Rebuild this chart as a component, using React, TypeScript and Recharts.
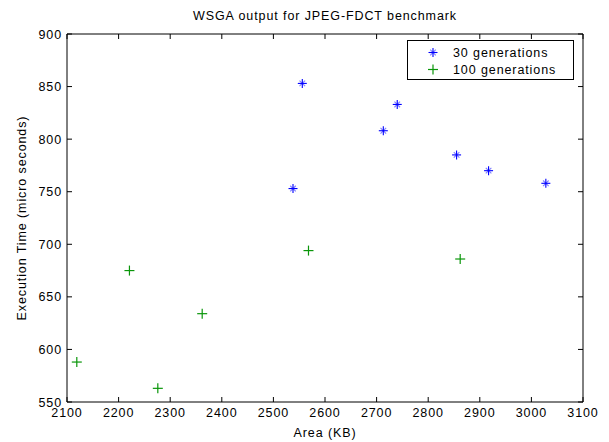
import React from "react";
import { ScatterChart, Scatter, XAxis, YAxis, Legend, Label } from "recharts";

const gen30Area = [2538, 2556, 2713, 2740, 2855, 2917, 3028];
const gen30Time = [753, 853, 808, 833, 785, 770, 758];
const gen100Area = [2119, 2221, 2276, 2362, 2568, 2862];
const gen100Time = [588, 675, 563, 634, 694, 686];
const xTicks = [2100, 2200, 2300, 2400, 2500, 2600, 2700, 2800, 2900, 3000, 3100];
const yTicks = [550, 600, 650, 700, 750, 800, 850, 900];
const seriesNames = ["30 generations", "100 generations"];
const titleText = "WSGA output for JPEG-FDCT benchmark";
const xLabel = "Area (KB)";
const yLabel = "Execution Time (micro seconds)";

const gen30 = gen30Area.map((a, i) => ({ x: a, y: gen30Time[i] }));
const gen100 = gen100Area.map((a, i) => ({ x: a, y: gen100Time[i] }));

const FONT = "'Liberation Sans', Arial, Helvetica, sans-serif";
const BLUE = "#0000ff";
const GREEN = "#0a960a";
const TL = 5;

const StarMark = ({ cx, cy, color = BLUE }: any) => (
  <g stroke={color} strokeWidth={1.1}>
    <line x1={cx - 4.5} y1={cy} x2={cx + 4.5} y2={cy} />
    <line x1={cx} y1={cy - 4.5} x2={cx} y2={cy + 4.5} />
    <line x1={cx - 2.8} y1={cy - 2.8} x2={cx + 2.8} y2={cy + 2.8} strokeOpacity={0.5} />
    <line x1={cx - 2.8} y1={cy + 2.8} x2={cx + 2.8} y2={cy - 2.8} strokeOpacity={0.5} />
  </g>
);

const PlusMark = ({ cx, cy, color = GREEN }: any) => (
  <g stroke={color} strokeWidth={1.2}>
    <line x1={cx - 5} y1={cy} x2={cx + 5} y2={cy} />
    <line x1={cx} y1={cy - 5} x2={cx} y2={cy + 5} />
  </g>
);

const txt = { fontFamily: FONT, fontSize: 12.5, fill: "#000", letterSpacing: 0.9 } as any;

const BottomTick = ({ x, y, payload }: any) => (
  <g>
    <line x1={x} y1={y} x2={x} y2={y - TL} stroke="#000" />
    <text x={x} y={y + 15} textAnchor="middle" style={txt}>{payload.value}</text>
  </g>
);
const TopTick = ({ x, y }: any) => (
  <line x1={x} y1={y} x2={x} y2={y + TL} stroke="#000" />
);
const LeftTick = ({ x, y, payload }: any) => (
  <g>
    <line x1={x} y1={y} x2={x + TL} y2={y} stroke="#000" />
    <text x={x - 5} y={y + 4.5} textAnchor="end" style={txt}>{payload.value}</text>
  </g>
);
const RightTick = ({ x, y }: any) => (
  <line x1={x} y1={y} x2={x - TL} y2={y} stroke="#000" />
);

const LegendBox = () => (
  <div
    style={{
      width: 165,
      height: 38,
      border: "1px solid #000",
      background: "#fff",
      fontFamily: FONT,
      fontSize: 12.5,
      letterSpacing: 0.9,
      color: "#000",
      boxSizing: "content-box",
    }}
  >
    {seriesNames.map((n, i) => (
      <div key={n} style={{ height: 17, display: "flex", alignItems: "center", marginTop: i === 0 ? 3 : 0 }}>
        <svg width={45} height={17} style={{ display: "block" }}>
          {i === 0 ? <StarMark cx={25} cy={8.5} /> : <PlusMark cx={25} cy={8.5} />}
        </svg>
        <span>{n}</span>
      </div>
    ))}
  </div>
);

const Nothing = () => <g />;

export default function App() {
  return (
    <div style={{ position: "absolute", left: 0, top: 0, width: 609, height: 442, background: "#fff" }}>
      <ScatterChart width={609} height={442} margin={{ top: 33, right: 25, bottom: 0, left: 0 }}>
        <XAxis
          xAxisId="b"
          dataKey="x"
          type="number"
          domain={[2100, 3100]}
          ticks={xTicks}
          interval={0}
          height={40}
          tickSize={0}
          tickMargin={0}
          tickLine={false}
          axisLine={{ stroke: "#000" }}
          tick={<BottomTick />}
        >
          <Label
            content={(p: any) => (
              <text x={p.viewBox.x + p.viewBox.width / 2} y={p.viewBox.y + 35} textAnchor="middle" style={txt}>
                {xLabel}
              </text>
            )}
          />
        </XAxis>
        <XAxis
          xAxisId="t"
          orientation="top"
          dataKey="x"
          type="number"
          domain={[2100, 3100]}
          ticks={xTicks}
          interval={0}
          height={1}
          tickSize={0}
          tickMargin={0}
          tickLine={false}
          axisLine={{ stroke: "#000" }}
          tick={<TopTick />}
        >
          <Label
            content={(p: any) => (
              <text x={p.viewBox.x + p.viewBox.width / 2} y={p.viewBox.y - 13} textAnchor="middle" style={txt}>
                {titleText}
              </text>
            )}
          />
        </XAxis>
        <YAxis
          yAxisId="l"
          dataKey="y"
          type="number"
          domain={[550, 900]}
          ticks={yTicks}
          interval={0}
          width={67}
          tickSize={0}
          tickMargin={0}
          tickLine={false}
          axisLine={{ stroke: "#000" }}
          tick={<LeftTick />}
        >
          <Label
            content={(p: any) => {
              const cx = 22;
              const cy = p.viewBox.y + p.viewBox.height / 2;
              return (
                <text x={cx} y={cy} textAnchor="middle" dominantBaseline="central" transform={`rotate(-90 ${cx} ${cy})`} style={txt}>
                  {yLabel}
                </text>
              );
            }}
          />
        </YAxis>
        <YAxis
          yAxisId="r"
          orientation="right"
          dataKey="y"
          type="number"
          domain={[550, 900]}
          ticks={yTicks}
          interval={0}
          width={1}
          tickSize={0}
          tickMargin={0}
          tickLine={false}
          axisLine={{ stroke: "#000" }}
          tick={<RightTick />}
        />
        <Legend
          layout="vertical"
          align="center"
          verticalAlign="middle"
          content={<LegendBox />}
          wrapperStyle={{ position: "absolute", left: 407, top: 40, width: 167, height: 40, bottom: "auto", right: "auto" }}
        />
        <Scatter
          name={seriesNames[0]}
          data={gen30}
          xAxisId="b"
          yAxisId="l"
          fill={BLUE}
          shape={(p: any) => <StarMark cx={p.cx} cy={p.cy} />}
          isAnimationActive={false}
        />
        <Scatter
          name={seriesNames[1]}
          data={gen100}
          xAxisId="b"
          yAxisId="l"
          fill={GREEN}
          shape={(p: any) => <PlusMark cx={p.cx} cy={p.cy} />}
          isAnimationActive={false}
        />
        <Scatter
          name="frame"
          data={gen30}
          xAxisId="t"
          yAxisId="r"
          legendType="none"
          shape={<Nothing />}
          isAnimationActive={false}
        />
      </ScatterChart>
    </div>
  );
}
